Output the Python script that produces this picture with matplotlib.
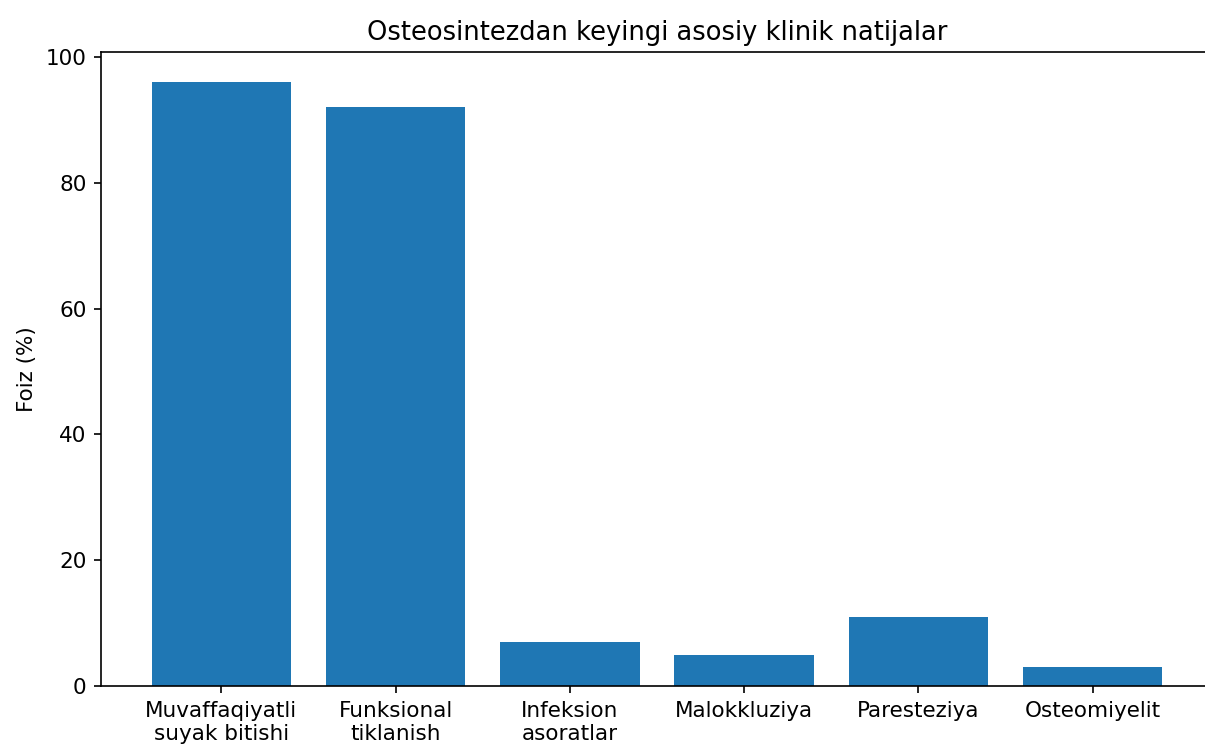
import matplotlib
matplotlib.use("Agg")
import matplotlib.pyplot as plt

# Klinik natijalar (%)
categories = ["Muvaffaqiyatli\nsuyak bitishi", "Funksional\ntiklanish",
              "Infeksion\nasoratlar", "Malokkluziya", "Paresteziya", "Osteomiyelit"]
values = [96, 92, 7, 5, 11, 3]

plt.rcParams["font.size"] = 10.3

fig = plt.figure(figsize=(1205 / 150, 745 / 150), dpi=150)
ax = fig.add_axes([101 / 1205, 59 / 745, 1112 / 1205, 634 / 745])

ax.bar(range(len(categories)), values, color="#1f77b4")
ax.set_xticks(range(len(categories)))
ax.set_xticklabels(categories)
ax.set_ylabel("Foiz (%)")
ax.set_title("Osteosintezdan keyingi asosiy klinik natijalar")

fig.savefig("out.png", dpi=150)
